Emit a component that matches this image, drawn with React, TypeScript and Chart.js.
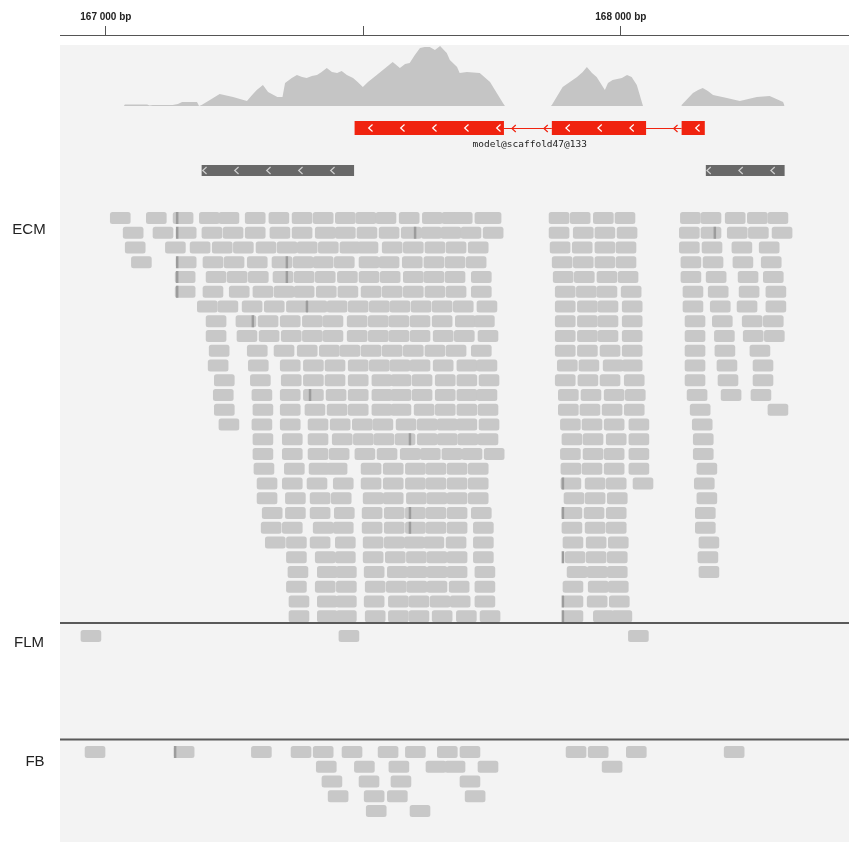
import React, { useEffect, useRef } from "react";
import { Chart, registerables } from "chart.js";

Chart.register(...registerables);

// ---------------- data ----------------
const TICK_VALUES = [167000, 167500, 168000];
const TICK_LABELS = ["167 000 bp", "", "168 000 bp"];
const X_MIN = 166911;
const X_MAX = 168443;

const COVERAGE_POS = [
  167035, 167037, 167080, 167085, 167091, 167130, 167140, 167144, 167148, 167177, 167181, 167186,
  167202, 167221, 167247, 167274, 167284, 167293, 167305, 167315, 167333, 167343, 167348, 167361,
  167371, 167381, 167390, 167400, 167410, 167419, 167429, 167439, 167449, 167458, 167468, 167480,
  167489, 167499, 167509, 167526, 167538, 167557, 167571, 167581, 167590, 167600, 167610, 167619,
  167629, 167639, 167649, 167662, 167668, 167682, 167687, 167701, 167726, 167746, 167771, 167775,
  167864, 167866, 167887, 167915, 167926, 167934, 167944, 167953, 167969, 167975, 167984, 168002,
  168012, 168021, 168031, 168043, 168117, 168118, 168140, 168150, 168159, 168169, 168179, 168206,
  168231, 168264, 168289, 168315, 168318,
];
const COVERAGE_DEPTH = [
  0, 1.5, 1.5, 0.5, 1, 1, 2, 3, 4, 4, 0, 1,
  6, 12, 9, 5, 11, 16, 21, 14, 9, 9, 23, 28,
  31, 29, 28, 30, 31, 34, 38, 34, 33, 35, 31, 28,
  24, 19, 24, 31, 36, 44, 38, 42, 43, 51, 58, 59,
  59, 56, 60, 53, 46, 39, 33, 34, 33, 24, 3, 0,
  0, 1, 19, 29, 34, 39, 33, 29, 16, 23, 26, 28,
  31, 29, 21, 0, 0, 1, 13, 16, 18, 15, 11, 8,
  5, 9, 10, 4, 0,
];
const COVERAGE_RANGE = 61;

const GENE_NAME = "model@scaffold47@133";
const GENE_EXONS: [number, number][] = [
  [167483, 167773],
  [167866, 168049],
  [168118, 168163],
];
const FEATURE_BLOCKS: [number, number][] = [
  [167186, 167482],
  [168165, 168318],
];

const READ_LEN = 42;

const ECM_READS: number[][] = [
  [167008, 167078, 167130, 167181, 167219, 167270, 167316, 167361, 167402, 167445, 167485, 167524, 167569, 167614, 167652, 167672, 167716, 167728, 167860, 167901, 167946, 167988, 168115, 168155, 168202, 168245, 168285],
  [167033, 167091, 167136, 167186, 167227, 167270, 167318, 167361, 167406, 167445, 167487, 167530, 167573, 167612, 167650, 167689, 167732, 167860, 167907, 167949, 167992, 168113, 168155, 168206, 168247, 168293],
  [167037, 167115, 167163, 167206, 167247, 167291, 167332, 167371, 167412, 167454, 167489, 167536, 167577, 167619, 167660, 167703, 167862, 167905, 167949, 167990, 168113, 168157, 168215, 168268],
  [167049, 167136, 167188, 167229, 167274, 167322, 167363, 167402, 167443, 167491, 167530, 167575, 167617, 167658, 167699, 167866, 167907, 167949, 167990, 168116, 168159, 168217, 168272],
  [167134, 167194, 167235, 167276, 167324, 167365, 167406, 167449, 167491, 167532, 167577, 167617, 167658, 167709, 167868, 167909, 167953, 167994, 168116, 168165, 168227, 168276],
  [167134, 167188, 167239, 167285, 167326, 167365, 167408, 167450, 167495, 167536, 167577, 167619, 167660, 167709, 167872, 167913, 167953, 168000, 168120, 168169, 168229, 168281],
  [167177, 167217, 167264, 167307, 167350, 167390, 167429, 167470, 167511, 167551, 167592, 167633, 167674, 167720, 167872, 167915, 167955, 168002, 168120, 168173, 168225, 168281],
  [167194, 167252, 167295, 167338, 167381, 167421, 167468, 167509, 167549, 167590, 167633, 167678, 167715, 167872, 167915, 167955, 168002, 168124, 168177, 168235, 168276],
  [167194, 167254, 167297, 167340, 167381, 167421, 167468, 167509, 167549, 167590, 167635, 167676, 167722, 167872, 167915, 167955, 168002, 168124, 168181, 168237, 168278],
  [167200, 167274, 167326, 167371, 167414, 167454, 167495, 167536, 167577, 167619, 167660, 167709, 167872, 167915, 167959, 168002, 168124, 168182, 168250],
  [167198, 167276, 167338, 167383, 167425, 167470, 167511, 167551, 167590, 167635, 167681, 167720, 167876, 167918, 167965, 168002, 168124, 168186, 168256],
  [167210, 167280, 167340, 167383, 167425, 167470, 167516, 167553, 167594, 167639, 167681, 167724, 167872, 167916, 167959, 168006, 168124, 168188, 168256],
  [167208, 167283, 167338, 167383, 167427, 167470, 167516, 167553, 167594, 167639, 167681, 167720, 167878, 167922, 167967, 168008, 168128, 168194, 168252],
  [167210, 167285, 167338, 167386, 167429, 167470, 167516, 167553, 167598, 167639, 167681, 167722, 167878, 167920, 167963, 168006, 168134, 168285],
  [167219, 167283, 167338, 167392, 167435, 167478, 167518, 167563, 167604, 167643, 167681, 167724, 167882, 167924, 167967, 168015, 168138],
  [167285, 167342, 167392, 167439, 167480, 167520, 167561, 167604, 167643, 167683, 167722, 167885, 167926, 167971, 168015, 168140],
  [167285, 167342, 167392, 167433, 167483, 167526, 167571, 167610, 167652, 167691, 167734, 167882, 167926, 167967, 168015, 168140],
  [167287, 167346, 167394, 167429, 167495, 167538, 167581, 167621, 167662, 167703, 167883, 167924, 167967, 168015, 168147],
  [167293, 167342, 167390, 167441, 167495, 167538, 167581, 167621, 167662, 167703, 167883, 167930, 167971, 168023, 168142],
  [167293, 167348, 167396, 167437, 167499, 167538, 167583, 167623, 167662, 167703, 167889, 167930, 167973, 168147],
  [167303, 167348, 167396, 167443, 167497, 167540, 167581, 167621, 167662, 167709, 167885, 167928, 167971, 168144],
  [167301, 167342, 167402, 167441, 167497, 167540, 167581, 167621, 167662, 167713, 167885, 167930, 167971, 168144],
  [167309, 167350, 167396, 167445, 167499, 167540, 167579, 167617, 167660, 167713, 167887, 167932, 167975, 168151],
  [167350, 167406, 167445, 167499, 167542, 167583, 167623, 167662, 167713, 167891, 167932, 167973, 168149],
  [167353, 167410, 167447, 167501, 167546, 167584, 167623, 167662, 167716, 167895, 167934, 167973, 168151],
  [167350, 167406, 167447, 167503, 167544, 167584, 167623, 167666, 167716, 167887, 167936, 167975],
  [167355, 167410, 167447, 167501, 167548, 167588, 167629, 167668, 167716, 167887, 167934, 167977],
  [167355, 167410, 167447, 167503, 167548, 167588, 167633, 167680, 167726, 167887, 167946, 167982],
];

const FLM_READS: number[][] = [[166951, 167452, 168014]];

const FB_READS: number[][] = [
  [166959, 167132, 167282, 167359, 167402, 167458, 167528, 167581, 167643, 167687, 167893, 167936, 168010, 168200],
  [167408, 167482, 167549, 167621, 167658, 167722, 167963],
  [167419, 167491, 167553, 167687],
  [167431, 167501, 167546, 167697],
  [167505, 167590],
];

// [sample index, row, position]
const MISMATCHES: [number, number, number][] = [
  [0, 0, 167138], [0, 1, 167138], [0, 3, 167138], [0, 4, 167138], [0, 5, 167138],
  [0, 3, 167351], [0, 4, 167351], [0, 6, 167390], [0, 7, 167285], [0, 12, 167396],
  [0, 1, 167600], [0, 1, 168182], [0, 15, 167590], [0, 20, 167590], [0, 21, 167590],
  [0, 18, 167887], [0, 20, 167887], [0, 23, 167887], [0, 26, 167887], [0, 27, 167887],
  [2, 0, 167134],
];

const SAMPLE_LABELS = ["ECM", "FLM", "FB"];
const SAMPLE_READS = [ECM_READS, FLM_READS, FB_READS];

// ---------------- layout / style ----------------
const L = {
  top: 35,
  bottom: 842,
  panelTop: 45,
  covBase: 106,
  covTop: 45,
  geneY: 128,
  exonH: 14,
  geneLabelY: 144.5,
  featY: 170.5,
  featH: 11,
  rowPitch: 14.75,
  readH: 12,
  trackTops: [212, 630, 746],
  separators: [623, 739.5],
  labelX: [29, 29, 35],
  labelY: [230, 643, 762],
};

const C = {
  panel: "#f3f3f3",
  read: "#c8c8c8",
  mismatch: "#9c9c9c",
  coverage: "#c5c5c5",
  gene: "#f0230f",
  feature: "#686868",
  featureChevron: "#cfcfcf",
  sep: "#595959",
  text: "#222222",
};

function chevron(ctx: CanvasRenderingContext2D, cx: number, cy: number, s: number, color: string) {
  ctx.strokeStyle = color;
  ctx.lineWidth = 1.2;
  ctx.beginPath();
  ctx.moveTo(cx + s * 0.55, cy - s);
  ctx.lineTo(cx - s * 0.55, cy);
  ctx.lineTo(cx + s * 0.55, cy + s);
  ctx.stroke();
}

const igvPlugin = {
  id: "igvTracks",
  beforeDatasetsDraw(chart: any) {
    const { ctx, chartArea } = chart;
    const ys = chart.scales.y;
    ctx.save();
    ctx.fillStyle = C.panel;
    const pt = ys.getPixelForValue(L.panelTop);
    ctx.fillRect(chartArea.left, pt, chartArea.right - chartArea.left, chartArea.bottom - pt);
    ctx.restore();
  },
  afterDatasetsDraw(chart: any) {
    const { ctx, chartArea } = chart;
    const xs = chart.scales.x;
    const ys = chart.scales.y;
    const X = (v: number) => xs.getPixelForValue(v);
    const Y = (v: number) => ys.getPixelForValue(v);
    ctx.save();

    // gene model
    const gy = Y(L.geneY);
    ctx.strokeStyle = C.gene;
    ctx.lineWidth = 1;
    for (let i = 0; i < GENE_EXONS.length - 1; i++) {
      const a = X(GENE_EXONS[i][1]);
      const b = X(GENE_EXONS[i + 1][0]);
      ctx.beginPath();
      ctx.moveTo(a, gy + 0.5);
      ctx.lineTo(b, gy + 0.5);
      ctx.stroke();
      for (let p = b - 6; p > a + 6; p -= 32) chevron(ctx, p, gy + 0.5, 3.5, C.gene);
    }
    for (const [s, e] of GENE_EXONS) {
      const a = X(s), b = X(e);
      ctx.fillStyle = C.gene;
      ctx.fillRect(a, Y(L.geneY - L.exonH / 2), b - a, Y(L.geneY + L.exonH / 2) - Y(L.geneY - L.exonH / 2));
      for (let p = a + 16; p < b - 3; p += 32) chevron(ctx, p, gy, 3.5, "#ffffff");
    }
    ctx.fillStyle = C.text;
    ctx.font = '9.5px "DejaVu Sans Mono"';
    ctx.textAlign = "center";
    ctx.textBaseline = "middle";
    ctx.fillText(GENE_NAME, X((GENE_EXONS[0][0] + GENE_EXONS[GENE_EXONS.length - 1][1]) / 2), Y(L.geneLabelY));

    // feature blocks
    const fy = Y(L.featY);
    for (const [s, e] of FEATURE_BLOCKS) {
      const a = X(s), b = X(e);
      ctx.fillStyle = C.feature;
      ctx.fillRect(a, Y(L.featY - L.featH / 2), b - a, Y(L.featY + L.featH / 2) - Y(L.featY - L.featH / 2));
      for (let p = a + 3; p < b - 8; p += 32) chevron(ctx, p, fy, 3.5, C.featureChevron);
    }

    // reads
    SAMPLE_READS.forEach((rows, ti) => {
      rows.forEach((row, ri) => {
        const top = Y(L.trackTops[ti] + ri * L.rowPitch);
        const h = Y(L.trackTops[ti] + ri * L.rowPitch + L.readH) - top;
        ctx.fillStyle = C.read;
        for (const s of row) {
          const a = X(s);
          const b = X(s + READ_LEN);
          ctx.beginPath();
          (ctx as any).roundRect(a, top, Math.max(2, b - a - 1), h, 2.5);
          ctx.fill();
        }
      });
    });
    ctx.fillStyle = C.mismatch;
    for (const [ti, ri, pos] of MISMATCHES) {
      const top = Y(L.trackTops[ti] + ri * L.rowPitch);
      const h = Y(L.trackTops[ti] + ri * L.rowPitch + L.readH) - top;
      ctx.fillRect(X(pos) - 1, top, 2.5, h);
    }

    // separators
    ctx.fillStyle = C.sep;
    for (const s of L.separators) {
      ctx.fillRect(chartArea.left, Y(s) - 1, chartArea.right - chartArea.left, 2);
    }

    // sample labels
    ctx.fillStyle = C.text;
    ctx.font = '15px "Liberation Sans"';
    ctx.textAlign = "center";
    ctx.textBaseline = "middle";
    SAMPLE_LABELS.forEach((lab, i) => ctx.fillText(lab, L.labelX[i], Y(L.labelY[i])));

    ctx.restore();
  },
};

export default function App() {
  const ref = useRef<HTMLCanvasElement | null>(null);

  useEffect(() => {
    if (!ref.current) return;
    const s = (L.covBase - L.covTop) / COVERAGE_RANGE;
    const covMin = -(L.bottom - L.covBase) / s;
    const covMax = (L.covBase - L.top) / s;

    const chart = new Chart(ref.current, {
      type: "scatter",
      data: {
        datasets: [
          {
            label: "coverage",
            data: COVERAGE_POS.map((p, i) => ({ x: p, y: COVERAGE_DEPTH[i] })),
            yAxisID: "yCov",
            showLine: true,
            fill: "origin",
            backgroundColor: C.coverage,
            borderColor: C.coverage,
            borderWidth: 0,
            pointRadius: 0,
            tension: 0,
          } as any,
        ],
      },
      options: {
        animation: false,
        responsive: false,
        devicePixelRatio: 1,
        layout: { padding: { left: 60, right: 0, top: 0, bottom: 0 } },
        plugins: { legend: { display: false }, tooltip: { enabled: false } },
        events: [],
        scales: {
          x: {
            type: "linear",
            position: "top",
            min: X_MIN,
            max: X_MAX,
            afterBuildTicks: (axis: any) => {
              axis.ticks = TICK_VALUES.map((v) => ({ value: v }));
            },
            afterFit: (scale: any) => {
              scale.height = L.top;
            },
            ticks: {
              autoSkip: false,
              maxRotation: 0,
              minRotation: 0,
              padding: 3,
              color: C.text,
              font: { family: "Liberation Sans", size: 10, weight: "bold" },
              callback: (v: any) => {
                const i = TICK_VALUES.indexOf(Number(v));
                return i >= 0 ? TICK_LABELS[i] : "";
              },
            },
            grid: { drawOnChartArea: false, drawTicks: true, tickLength: 9, color: "#555555", lineWidth: 1 },
            border: { display: true, color: "#555555", width: 1 },
          },
          y: { type: "linear", display: false, min: L.top, max: L.bottom, reverse: true },
          yCov: { type: "linear", display: false, min: covMin, max: covMax },
        },
      } as any,
      plugins: [igvPlugin],
    });
    return () => chart.destroy();
  }, []);

  return (
    <div style={{ position: "absolute", left: 0, top: 0, width: 849, height: 842, background: "#ffffff" }}>
      <canvas ref={ref} width={849} height={842} style={{ display: "block" }} />
    </div>
  );
}
